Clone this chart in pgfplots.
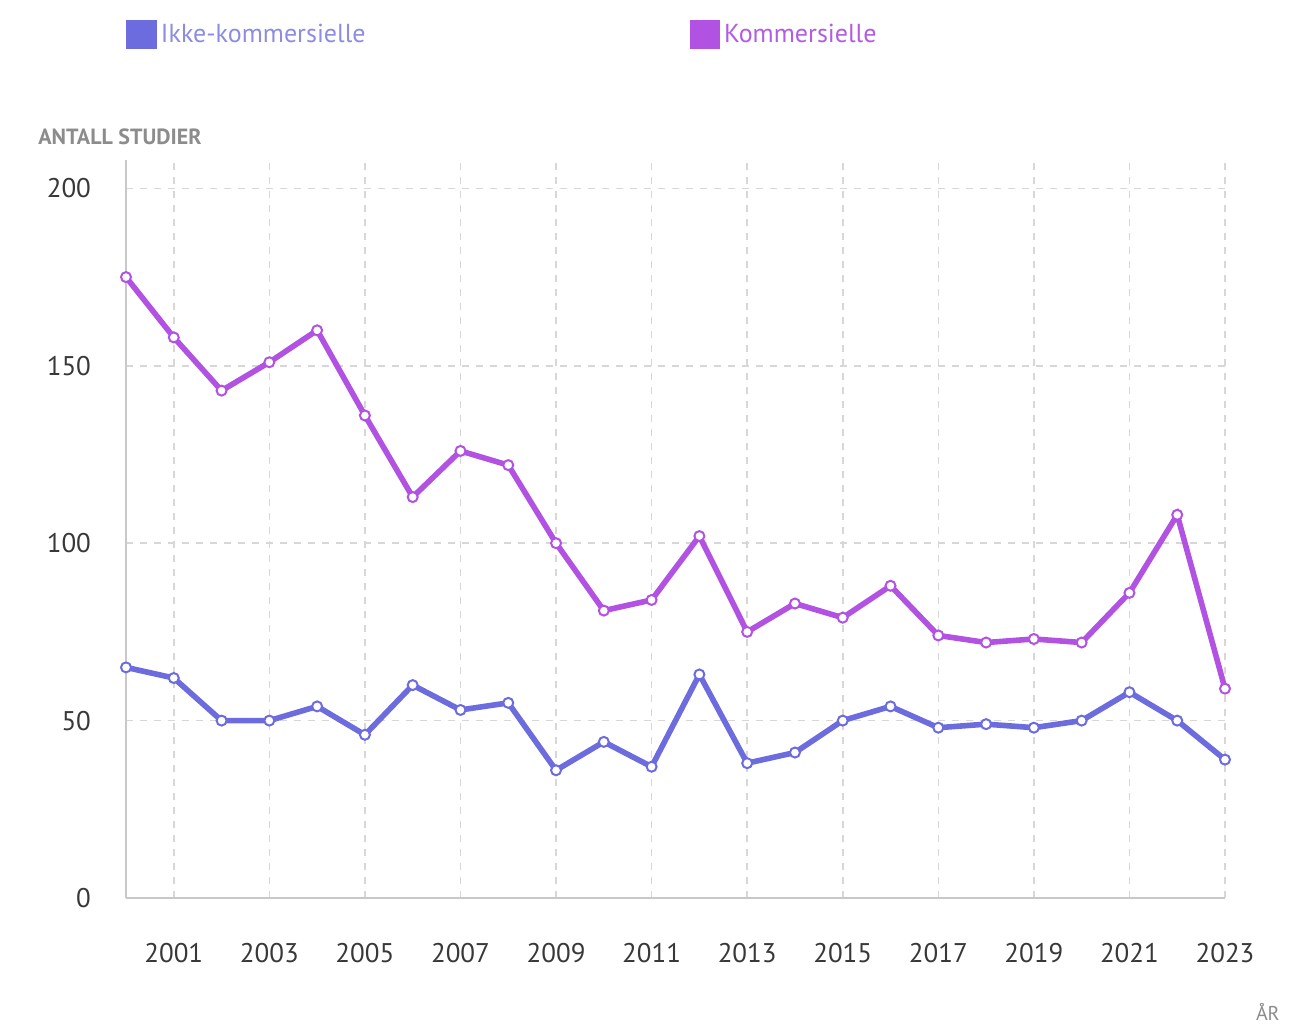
\documentclass[border=0pt]{standalone}
\usepackage{fontspec}
\setmainfont{PT Sans}
\usepackage{pgfplots}
\pgfplotsset{compat=1.18}
\definecolor{ikke}{RGB}{108,108,222}
\definecolor{komm}{RGB}{178,82,226}
\definecolor{ikketxt}{RGB}{140,140,226}
\definecolor{kommtxt}{RGB}{178,92,226}
\definecolor{gridc}{RGB}{215,215,215}
\definecolor{axisc}{RGB}{200,200,200}
\definecolor{labc}{RGB}{140,140,140}

\begin{document}
\begin{tikzpicture}
\path[use as bounding box] (0pt,0pt) rectangle (656pt,512pt);
\begin{axis}[
    at={(63pt,63pt)}, anchor=south west,
    scale only axis, width=549.5pt, height=369pt,
    xmin=2000, xmax=2023, ymin=0, ymax=208,
    axis lines=left,
    axis line style={axisc, line width=1pt, -},
    xtick={2001,2003,...,2023},
    ytick={0,50,100,150,200},
    major tick length=0pt,
    xticklabel style={yshift=-19pt},
    yticklabel style={xshift=-14pt},
    x tick label style={/pgf/number format/1000 sep={}},
    /pgf/number format/assume math mode=true,
    tick label style={font=\fontsize{13.5}{16}\selectfont, text=black!78},
    grid=major,
    major grid style={gridc, line width=0.8pt, dash pattern=on 3.5pt off 3.5pt},
    legend columns=2,
    legend style={at={(0,1.17)}, anchor=west, draw=none, fill=none,
        inner xsep=0pt, font=\fontsize{13}{15}\selectfont,
        /tikz/every even column/.append style={column sep=160pt}},
    clip=false,
]
\addplot[ikke, line width=2.8pt, mark=*, mark size=2.5pt,
    mark options={fill=white, draw=ikke, line width=1pt},
    legend image code/.code={\fill[ikke] (0pt,-6pt) rectangle (12.5pt,6pt);}]
coordinates {
(2000,65) (2001,62) (2002,50) (2003,50) (2004,54) (2005,46) (2006,60) (2007,53)
(2008,55) (2009,36) (2010,44) (2011,37) (2012,63) (2013,38) (2014,41) (2015,50)
(2016,54) (2017,48) (2018,49) (2019,48) (2020,50) (2021,58) (2022,50) (2023,39)
};
\addlegendentry{\textcolor{ikketxt}{Ikke-kommersielle}}
\addplot[komm, line width=2.8pt, mark=*, mark size=2.5pt,
    mark options={fill=white, draw=komm, line width=1pt},
    legend image code/.code={\fill[komm] (0pt,-6pt) rectangle (12.5pt,6pt);}]
coordinates {
(2000,175) (2001,158) (2002,143) (2003,151) (2004,160) (2005,136) (2006,113) (2007,126)
(2008,122) (2009,100) (2010,81) (2011,84) (2012,102) (2013,75) (2014,83) (2015,79)
(2016,88) (2017,74) (2018,72) (2019,73) (2020,72) (2021,86) (2022,108) (2023,59)
};
\addlegendentry{\textcolor{kommtxt}{Kommersielle}}
\end{axis}
\node[anchor=west, inner sep=0pt, text=labc, font=\bfseries\fontsize{11}{13}\selectfont] at (19pt,443.5pt) {ANTALL STUDIER};
\node[anchor=east, inner sep=0pt, text=labc, font=\fontsize{10}{12}\selectfont] at (640pt,6pt) {ÅR};
\end{tikzpicture}
\end{document}
